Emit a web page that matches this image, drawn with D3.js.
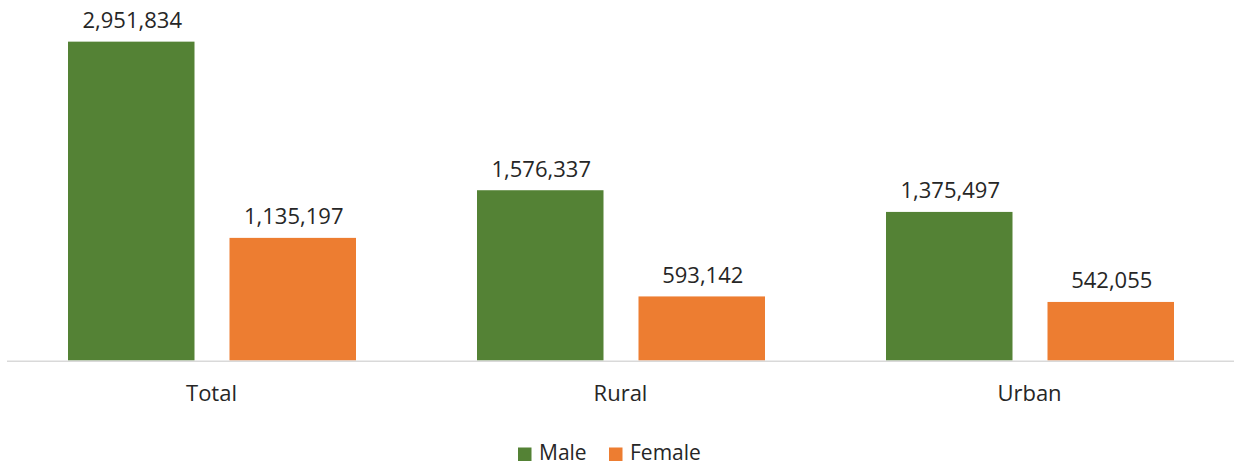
<!DOCTYPE html>
<html>
<head>
<meta charset="utf-8">
<script src="https://cdn.jsdelivr.net/npm/d3@7"></script>
<style>
  body { margin: 0; background: #fff; }
  svg text { font-family: "Open Sans", "Noto Sans", sans-serif; fill: #262626; }
</style>
</head>
<body>
<svg></svg>
<script>
var width = 1234,
  height = 466;

// Chart data
var categories = ["Total", "Rural", "Urban"];
var seriesNames = ["Male", "Female"];
var maleValues = [2951834, 1576337, 1375497];
var femaleValues = [1135197, 593142, 542055];

var colors = { Male: "#548235", Female: "#ED7D31" };

var svg = d3.select("svg")
  .attr("width", width)
  .attr("height", height);

// Scales
var x0 = d3.scaleBand()
  .domain(categories)
  .range([7, 1234]);

var x1 = d3.scaleBand()
  .domain(seriesNames)
  .range([61, 349])
  .paddingInner(0.2167);

var y = d3.scaleLinear()
  .domain([0, 3180000])
  .range([360.5, 17]);

var fmt = d3.format(",");

var rows = categories.map(function(c, i) {
  return { cat: c, values: [
    { key: "Male", value: maleValues[i] },
    { key: "Female", value: femaleValues[i] }
  ]};
});

var groups = svg.append("g")
  .selectAll("g")
  .data(rows)
  .enter().append("g")
  .attr("transform", function(d) { return "translate(" + x0(d.cat) + ",0)"; });

groups.selectAll("rect")
  .data(function(d) { return d.values; })
  .enter().append("rect")
  .attr("x", function(d) { return x1(d.key); })
  .attr("y", function(d) { return y(d.value); })
  .attr("width", x1.bandwidth())
  .attr("height", function(d) { return y(0) - y(d.value); })
  .attr("fill", function(d) { return colors[d.key]; });

// Data labels
groups.selectAll("text.val")
  .data(function(d) { return d.values; })
  .enter().append("text")
  .attr("class", "val")
  .attr("x", function(d) { return x1(d.key) + x1.bandwidth() / 2 + 1; })
  .attr("y", function(d) { return y(d.value) - 13.5; })
  .attr("text-anchor", "middle")
  .style("font-size", "22px")
  .text(function(d) { return fmt(d.value); });

// Baseline
svg.append("line")
  .attr("x1", 7)
  .attr("x2", 1234)
  .attr("y1", y(0) + 0.8)
  .attr("y2", y(0) + 0.8)
  .attr("stroke", "#D9D9D9")
  .attr("stroke-width", 1.5);

// Category labels
var xAxis = d3.axisBottom(x0).tickSize(0).tickPadding(0);
var axisG = svg.append("g")
  .attr("transform", "translate(0,384)")
  .call(xAxis);
axisG.select(".domain").remove();
axisG.selectAll("text")
  .attr("dy", 0)
  .attr("y", 17)
  .style("font-size", "22px")
  .style("font-family", "\"Open Sans\", \"Noto Sans\", sans-serif")
  .attr("fill", "#262626");

// Legend
var legendX = [518, 609];
var legend = svg.append("g")
  .selectAll("g")
  .data(seriesNames)
  .enter().append("g")
  .attr("transform", function(d, i) { return "translate(" + legendX[i] + ",447.5)"; });

legend.append("rect")
  .attr("width", 13.5)
  .attr("height", 13.5)
  .attr("fill", function(d) { return colors[d]; });

legend.append("text")
  .attr("x", 21)
  .attr("y", 12)
  .style("font-size", "21px")
  .text(function(d) { return d; });
</script>
</body>
</html>
